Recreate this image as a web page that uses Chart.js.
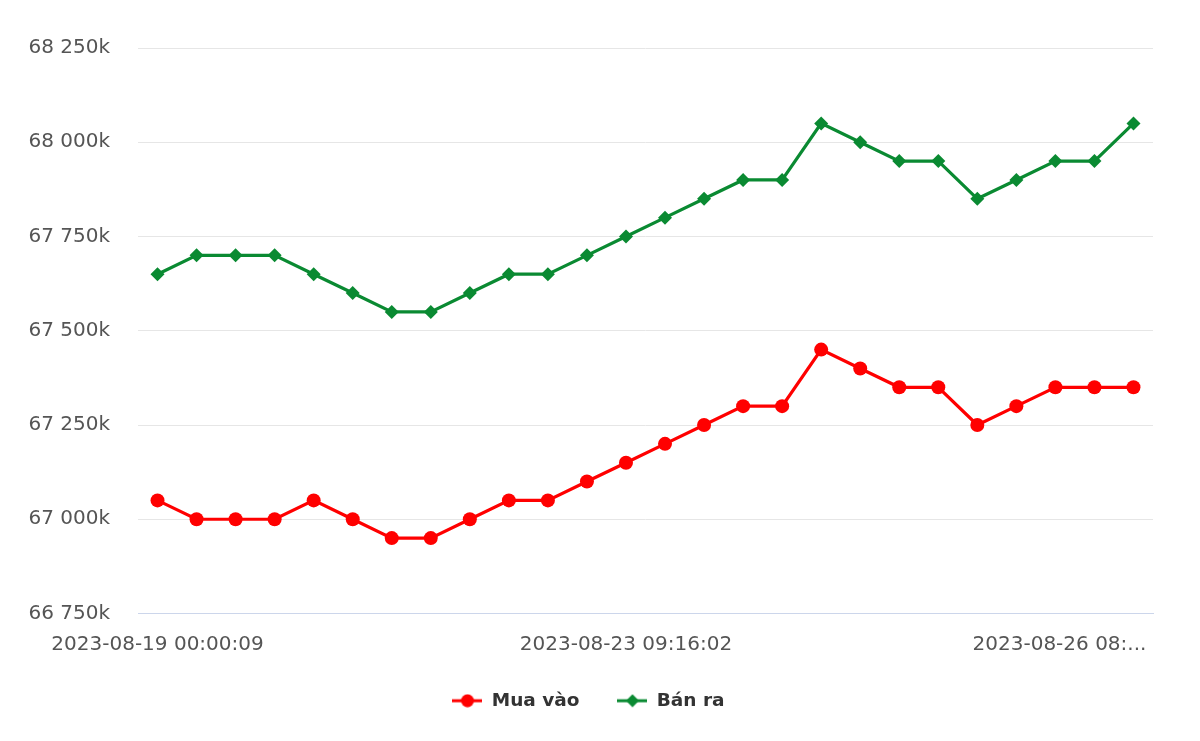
<!DOCTYPE html>
<html>
<head>
<meta charset="utf-8">
<script src="https://cdn.jsdelivr.net/npm/chart.js@4.4.0/dist/chart.umd.min.js"></script>
<style>
  html, body { margin: 0; padding: 0; background: #fff; }
  #chart { display: block; }
</style>
</head>
<body>
<canvas id="chart" width="1200" height="741"></canvas>
<script>
// only three time labels are readable on the axis, the rest stay empty
const labels = [
  '2023-08-19 00:00:09', '', '', '', '', '', '', '', '', '', '', '',
  '2023-08-23 09:16:02', '', '', '', '', '', '', '', '', '', '', '',
  '2023-08-26 08:...', ''
];
// prices in thousands
const buyPrices = [67050, 67000, 67000, 67000, 67050, 67000, 66950, 66950, 67000, 67050, 67050, 67100, 67150,
                   67200, 67250, 67300, 67300, 67450, 67400, 67350, 67350, 67250, 67300, 67350, 67350, 67350];
const sellPrices = [67650, 67700, 67700, 67700, 67650, 67600, 67550, 67550, 67600, 67650, 67650, 67700, 67750,
                    67800, 67850, 67900, 67900, 68050, 68000, 67950, 67950, 67850, 67900, 67950, 67950, 68050];
const yTicks = [66750, 67000, 67250, 67500, 67750, 68000, 68250];

const red = '#ff0000';
const green = '#0a8a32';
const tickFont = { family: 'DejaVu Sans', size: 20 };

const fmt = v => Math.floor(v / 1000) + ' ' + String(v % 1000).padStart(3, '0') + 'k';

// little line + marker used as legend symbol
function legendIcon(color, style) {
  const c = document.createElement('canvas');
  c.width = 30; c.height = 14;
  const g = c.getContext('2d');
  g.strokeStyle = color;
  g.lineWidth = 3;
  g.beginPath(); g.moveTo(0, 7); g.lineTo(30, 7); g.stroke();
  g.fillStyle = color;
  g.beginPath();
  if (style === 'circle') {
    g.arc(15, 7, 6.5, 0, Math.PI * 2);
  } else {
    g.moveTo(15, 0.5); g.lineTo(21.5, 7); g.lineTo(15, 13.5); g.lineTo(8.5, 7); g.closePath();
  }
  g.fill();
  return c;
}
const icons = [legendIcon(red, 'circle'), legendIcon(green, 'diamond')];

new Chart(document.getElementById('chart'), {
  type: 'line',
  data: {
    labels: labels,
    datasets: [{
      label: 'Mua vào',
      data: buyPrices,
      borderColor: red,
      backgroundColor: red,
      borderWidth: 3.2,
      pointStyle: 'circle',
      pointRadius: 7,
      pointHoverRadius: 7,
      pointBorderWidth: 0
    }, {
      label: 'Bán ra',
      data: sellPrices,
      borderColor: green,
      backgroundColor: green,
      borderWidth: 3.2,
      pointStyle: 'rectRot',
      pointRadius: 7,
      pointHoverRadius: 7,
      pointBorderWidth: 0
    }]
  },
  options: {
    responsive: false,
    animation: false,
    layout: { padding: { top: 48, right: 47, bottom: 21, left: 24 } },
    plugins: {
      tooltip: { enabled: false },
      legend: {
        position: 'bottom',
        labels: {
          usePointStyle: true,
          pointStyleWidth: 30,
          padding: 38,
          color: '#333',
          font: { family: 'DejaVu Sans', size: 18.5, weight: 'bold' },
          generateLabels(chart) {
            const items = Chart.defaults.plugins.legend.labels.generateLabels(chart);
            items.forEach((it, i) => { it.pointStyle = icons[i]; });
            return items;
          }
        }
      }
    },
    scales: {
      x: {
        offset: true,
        grid: { display: false, drawTicks: false },
        border: { display: true, color: '#ccd6eb', width: 1 },
        ticks: {
          autoSkip: false,
          maxRotation: 0,
          minRotation: 0,
          padding: 19,
          color: '#555',
          font: tickFont,
          callback(value, index) {
            const s = labels[index];
            // the cut-off last label is pushed left so it stays inside the chart
            return s.endsWith('...') ? s + '\u00a0'.repeat(11) : s;
          }
        },
        afterFit(scale) { scale.height = 40; }
      },
      y: {
        min: yTicks[0],
        max: yTicks[yTicks.length - 1],
        grid: {
          drawTicks: false,
          color: ctx => ctx.tick && ctx.tick.value === yTicks[0] ? 'rgba(0,0,0,0)' : '#e6e6e6'
        },
        border: { display: false },
        ticks: {
          stepSize: yTicks[1] - yTicks[0],
          padding: 28,
          color: '#555',
          font: tickFont,
          callback: v => fmt(v)
        },
        afterFit(scale) { scale.width = 114; }
      }
    }
  }
});
</script>
</body>
</html>
